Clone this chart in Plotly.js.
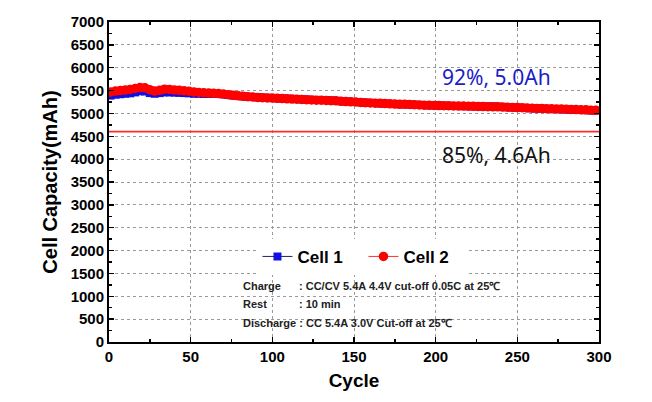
<!DOCTYPE html>
<html><head><meta charset="utf-8">
<script src="https://cdn.plot.ly/plotly-3.0.1.min.js"></script>
<style>html,body{margin:0;padding:0;background:#fff}#chart{width:652px;height:402px}</style>
</head><body><div id="chart"></div>
<script>
// Capacity read every 3rd cycle starting at cycle 1
const cycleStep = 3;
const cell2 = [5470,5490,5500,5510,5525,5545,5565,5560,5520,5490,
5505,5530,5525,5515,5505,5495,5485,5470,5460,5450,
5445,5440,5435,5425,5410,5395,5385,5375,5365,5360,
5350,5345,5340,5335,5330,5325,5320,5315,5310,5305,
5300,5295,5290,5290,5285,5280,5275,5265,5260,5255,
5250,5240,5235,5230,5225,5220,5215,5210,5205,5200,
5200,5195,5190,5185,5180,5178,5175,5172,5170,5168,
5165,5162,5160,5158,5155,5152,5150,5148,5145,5145,
5140,5135,5130,5128,5125,5120,5115,5110,5108,5105,
5100,5098,5095,5092,5088,5085,5080,5078,5072,5068];
const cell1 = [5390,5410,5420,5430,5440,5460,5485,5480,5445,5430,
5445,5460,5460,5455,5450,5445,5440,5430,5430,5425,
5425,5425,5425,5415,5405,5390,5385,5372,5365,5358,
5352,5346,5342,5336,5330,5328,5322,5318,5312,5308,
5302,5298,5295,5292,5290,5283,5276,5268,5262,5256,
5250,5242,5236,5230,5226,5220,5216,5210,5205,5202,
5200,5195,5190,5186,5182,5178,5176,5172,5170,5166,
5164,5162,5160,5158,5156,5155,5154,5152,5152,5148,
5142,5135,5130,5126,5122,5117,5112,5108,5105,5100,
5097,5094,5090,5086,5082,5078,5076,5070,5066,5062];
const refCycles = [0, 300];
const refCapacity = [4600, 4600];
const seriesNames = ['Cell 1', 'Cell 2'];
const yTicks = [0,500,1000,1500,2000,2500,3000,3500,4000,4500,5000,5500,6000,6500,7000];
const xTicks = [0,50,100,150,200,250,300];
const label92 = '92%, 5.0Ah';
const label85 = '85%, 4.6Ah';
const condLabels = ['Charge', 'Rest'];
const condValues = [': CC/CV 5.4A 4.4V cut-off 0.05C at 25\u2103', ': 10 min'];
const condDischarge = 'Discharge : CC 5.4A 3.0V Cut-off at 25\u2103';

const cyc1 = cell1.map((_, i) => 1 + i * cycleStep);
const cyc2 = cell2.map((_, i) => 1 + i * cycleStep);

const F = 'Liberation Sans, Arial, sans-serif';
const traces = [
  {x: refCycles, y: refCapacity, mode: 'lines', line: {color: '#ff2a2a', width: 1.8}, showlegend: false, hoverinfo: 'skip'},
  {x: cyc1, y: cell1, name: seriesNames[0], mode: 'lines+markers',
   line: {color: '#20206a', width: 1}, marker: {symbol: 'square', size: 8, color: '#1010e0'}},
  {x: cyc2, y: cell2, name: seriesNames[1], mode: 'lines+markers',
   line: {color: '#ff3030', width: 1}, marker: {symbol: 'circle', size: 9.5, color: '#ff0000'}}
];

const axisCommon = {
  showline: true, linecolor: '#000', linewidth: 2, mirror: 'allticks',
  ticks: 'inside', ticklen: 5, tickwidth: 1.5, tickcolor: '#000',
  showgrid: true, gridcolor: '#9a9a9a', griddash: 'dot', gridwidth: 1,
  zeroline: false, tickfont: {family: F, size: 15, color: '#000', weight: 'bold'}
};

const annotations = [
  {x: 237, y: 5800, xref: 'x', yref: 'y', text: label92, showarrow: false,
   font: {family: 'Noto Sans, sans-serif', size: 21, color: '#1c1cc8'}},
  {x: 237, y: 4080, xref: 'x', yref: 'y', text: label85, showarrow: false,
   font: {family: 'Noto Sans, sans-serif', size: 21, color: '#111'}}
];
const condY = [1225, 830];
condLabels.forEach((t, i) => {
  annotations.push({x: 81, y: condY[i], xref: 'x', yref: 'y', text: t, showarrow: false, xanchor: 'left',
    font: {family: F, size: 11, color: '#222', weight: 'bold'}});
  annotations.push({x: 115, y: condY[i], xref: 'x', yref: 'y', text: condValues[i], showarrow: false, xanchor: 'left',
    font: {family: F, size: 11, color: '#222', weight: 'bold'}});
});
annotations.push({x: 81, y: 415, xref: 'x', yref: 'y', text: condDischarge, showarrow: false, xanchor: 'left',
  font: {family: F, size: 11, color: '#222', weight: 'bold'}});

const layout = {
  width: 652, height: 402,
  margin: {l: 109, r: 53, t: 22, b: 60},
  paper_bgcolor: '#fff', plot_bgcolor: '#fff',
  xaxis: Object.assign({}, axisCommon, {
    range: [0, 300], tickvals: xTicks, ticktext: xTicks.map(String),
    minor: {dtick: 25, ticks: 'inside', ticklen: 3, tickcolor: '#000', showgrid: false},
    title: {text: 'Cycle', font: {family: F, size: 19, color: '#000', weight: 'bold'}, standoff: 10}
  }),
  yaxis: Object.assign({}, axisCommon, {
    range: [0, 7000], tickvals: yTicks, ticktext: yTicks.map(String),
    minor: {dtick: 250, ticks: 'inside', ticklen: 3, tickcolor: '#000', showgrid: false},
    title: {text: 'Cell Capacity(mAh)', font: {family: F, size: 20, color: '#000', weight: 'bold'}, standoff: 8}
  }),
  legend: {orientation: 'h', x: 0.303, y: 0.266, xanchor: 'left', yanchor: 'middle',
    entrywidth: 61, bgcolor: '#fff', font: {family: F, size: 17, color: '#000', weight: 'bold'}},
  annotations: annotations,
  showlegend: true
};
Plotly.newPlot('chart', traces, layout, {staticPlot: true, displayModeBar: false});
</script></body></html>
